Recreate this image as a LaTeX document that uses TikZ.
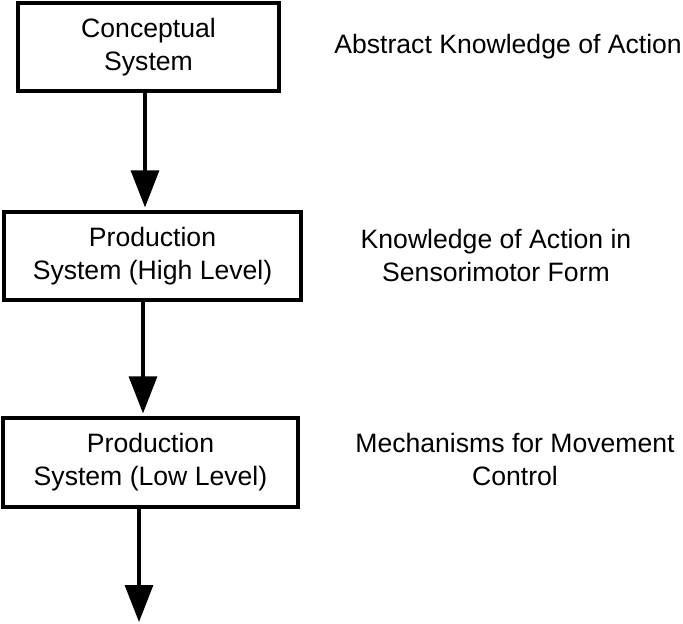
\documentclass[tikz,border=0pt]{standalone}
\usepackage{fontspec}
\setmainfont{Liberation Sans}
\usetikzlibrary{arrows.meta}
\begin{document}
\begin{tikzpicture}[x=1bp,y=-1bp,
  every node/.style={font=\fontsize{26.6bp}{33bp}\selectfont, inner sep=0pt, align=center},
  stagebox/.style={draw, line width=3.2bp, rectangle},
  flow/.style={line width=3.2bp, -{Triangle[width=28bp,length=37bp]}, shorten >=3bp}
]
\useasboundingbox (0,0) rectangle (683,624);
\node[stagebox, minimum width=261bp, minimum height=88bp] (c) at (148.5,47) {Conceptual\\System};
\node[stagebox, minimum width=297bp, minimum height=88bp] (h) at (152.5,256) {Production\\System (High Level)};
\node[stagebox, minimum width=295bp, minimum height=89bp] (l) at (150.5,462.5) {Production\\System (Low Level)};
\node[anchor=east] (t1) at (682,47) {Abstract Knowledge of Action};
\node (t2) at (496,255) {Knowledge of Action in\\Sensorimotor Form};
\node (t3) at (515,459) {Mechanisms for Movement\\Control};
\coordinate (x1) at (145,0);
\coordinate (x2) at (143,0);
\coordinate (x3) at (139,0);
\coordinate (e) at (139,624);
\draw[flow] (c.south -| x1) -- (h.north -| x1);
\draw[flow] (h.south -| x2) -- (l.north -| x2);
\draw[flow, shorten >=2bp] (l.south -| x3) -- (e);
\end{tikzpicture}
\end{document}
